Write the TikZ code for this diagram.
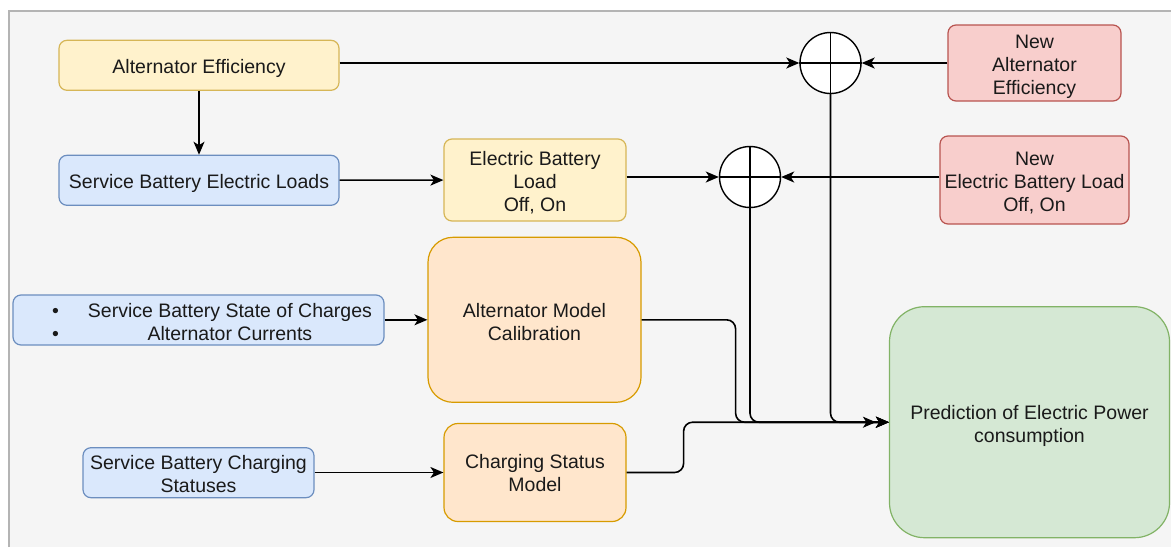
\documentclass[tikz,border=0pt]{standalone}
\usepackage{fontspec}
\setmainfont{Liberation Sans}
\usetikzlibrary{arrows.meta}
\definecolor{bgc}{HTML}{F5F5F5}
\definecolor{frm}{HTML}{B4B4B4}
\definecolor{yF}{HTML}{FFF2CC}\definecolor{yD}{HTML}{D6B656}
\definecolor{bF}{HTML}{DAE8FC}\definecolor{bD}{HTML}{6C8EBF}
\definecolor{rF}{HTML}{F8CECC}\definecolor{rD}{HTML}{B85450}
\definecolor{oF}{HTML}{FFE6CC}\definecolor{oD}{HTML}{D79B00}
\definecolor{gF}{HTML}{D5E8D4}\definecolor{gD}{HTML}{82B366}
\definecolor{txt}{HTML}{1A1A1A}
\newcommand{\ts}[1]{\rule{0pt}{#1pt}}
\tikzset{
  box/.style={draw, rounded corners=8pt, line width=1.2pt, align=center,
    font=\fontsize{19.5}{23}\selectfont, text=txt, inner sep=0pt},
  ybox/.style={box, fill=yF, draw=yD},
  bbox/.style={box, fill=bF, draw=bD},
  rbox/.style={box, fill=rF, draw=rD},
  obox/.style={box, fill=oF, draw=oD},
  gbox/.style={box, fill=gF, draw=gD},
  sumnode/.style={circle, draw=black, fill=white, line width=1.4pt, minimum size=61pt, inner sep=0pt},
  conn/.style={draw=black, line width=1.6pt, -{Stealth[length=13pt,width=11pt,inset=3.5pt]}},
  dconn/.style={draw=black, line width=1.6pt, -{Stealth[length=13pt,width=11pt,inset=3.5pt]Stealth[length=13pt,width=11pt,inset=3.5pt]}},
  plain/.style={draw=black, line width=1.4pt},
}
\begin{document}
\begin{tikzpicture}[x=1pt,y=-1pt]
\useasboundingbox (0,0) rectangle (1171,547);
\fill[bgc] (9,11) rectangle (1171,547);
\draw[frm, line width=1.2pt] (9,547) -- (9,11) -- (1171,11);

% nodes
\node[ybox, minimum width=280pt, minimum height=50pt] (ae) at (199,65.3) {\ts{19.5}Alternator Efficiency};
\node[bbox, minimum width=280pt, minimum height=50pt] (sbel) at (199,180.3) {\ts{20.5}Service Battery Electric Loads};
\node[ybox, minimum width=182pt, minimum height=82pt] (ebl) at (535,180) {\ts{18.5}Electric Battery\\Load\\Off, On};
\node[sumnode] (sumA) at (830.5,63) {};
\node[sumnode] (sumB) at (750,177) {};
\node[rbox, minimum width=173pt, minimum height=76pt] (nae) at (1034.5,63) {\ts{22}New\\Alternator\\Efficiency};
\node[rbox, minimum width=189pt, minimum height=88pt] (nebl) at (1034.5,180) {\ts{19}New\\Electric Battery Load\\Off, On};
\node[obox, rounded corners=25pt, minimum width=213pt, minimum height=165pt] (amc) at (534.5,319.8) {\ts{18}Alternator Model\\Calibration};
\node[bbox, minimum width=371pt, minimum height=50pt] (soc) at (198.5,320) {};
\node[font=\fontsize{19.5}{23}\selectfont, text=txt, inner sep=0pt] (soctext) at (212,324.5)
  {\begin{tabular}{@{}c@{\hspace{29pt}}c@{}}\textbullet & Service Battery State of Charges\\
   \textbullet & Alternator Currents\end{tabular}};
\node[bbox, minimum width=231pt, minimum height=50pt] (sbcs) at (198.5,472.7) {\ts{16}Service Battery Charging\\Statuses};
\node[obox, rounded corners=14pt, minimum width=182pt, minimum height=98pt] (csm) at (535,472.5) {\ts{16}Charging Status\\Model};
\node[gbox, rounded corners=35pt, minimum width=280pt, minimum height=231pt] (pred) at (1029.5,422.2) {\ts{22}Prediction of Electric Power\\consumption};

% plus signs in summing junctions
\draw[plain] (sumA.west) -- (sumA.east);
\draw[plain] (sumA.north) -- (sumA.south);
\draw[plain] (sumB.west) -- (sumB.east);
\draw[plain] (sumB.north) -- (sumB.south);

% connectors
\draw[conn] (ae) -- (sbel);
\draw[conn] (sbel) -- (ebl);
\draw[conn] (ae.east |- sumA.west) -- (sumA.west);
\draw[conn] (nae.west |- sumA.east) -- (sumA.east);
\draw[conn] (ebl.east |- sumB.west) -- (sumB.west);
\draw[conn] (nebl.west |- sumB.east) -- (sumB.east);
\draw[conn] (soc.east |- amc.west) -- (amc.west);
\draw[conn] (sbcs.east |- csm.west) -- (csm.west);

\draw[conn, rounded corners=9pt] (sumA.south) |- (pred.west);
\draw[conn, rounded corners=9pt] (sumB.south) |- (pred.west);
\draw[dconn, rounded corners=9pt] (amc.east) -- ++(94,0) |- (pred.west);
\draw[conn, rounded corners=9pt] (csm.east) -- ++(57,0) |- (pred.west);
\end{tikzpicture}
\end{document}
